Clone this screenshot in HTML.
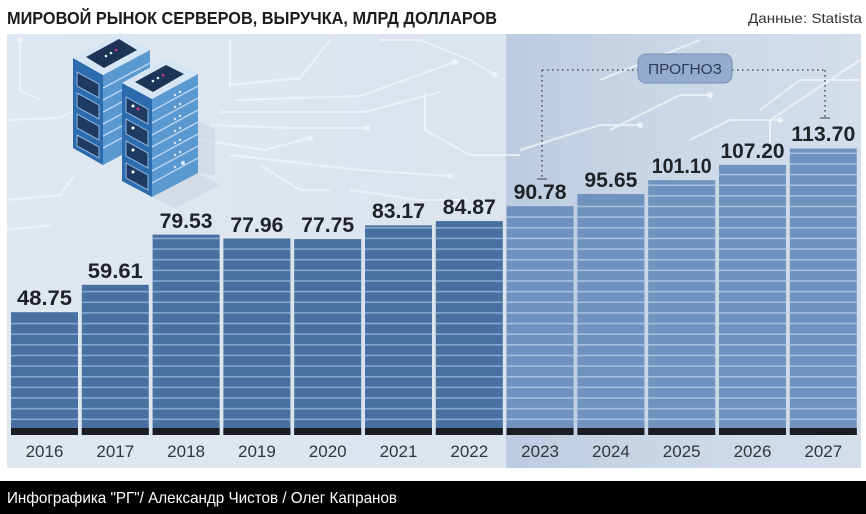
<!DOCTYPE html>
<html><head><meta charset="utf-8"><style>
html,body{margin:0;padding:0;background:#fff;}
svg{display:block;}
text{font-family:"Liberation Sans",sans-serif;}
</style></head><body>
<svg width="866" height="514" viewBox="0 0 866 514" xmlns="http://www.w3.org/2000/svg">
<defs>
<linearGradient id="fc" x1="0" y1="0" x2="1" y2="0">
<stop offset="0" stop-color="#bccbe0"/>
<stop offset="0.45" stop-color="#cad7e7"/>
<stop offset="1" stop-color="#d4deeb"/>
</linearGradient>
<linearGradient id="pn" x1="0" y1="0" x2="1" y2="0">
<stop offset="0" stop-color="#dfe7f0"/>
<stop offset="1" stop-color="#d9e2ed"/>
</linearGradient>
</defs>
<rect width="866" height="514" fill="#fff"/>
<text x="7" y="24" font-size="17.5" font-weight="bold" fill="#1c1c1c" textLength="490" lengthAdjust="spacingAndGlyphs">МИРОВОЙ РЫНОК СЕРВЕРОВ, ВЫРУЧКА, МЛРД ДОЛЛАРОВ</text>
<text x="862" y="23" font-size="14" fill="#333" text-anchor="end" textLength="114" lengthAdjust="spacingAndGlyphs">Данные: Statista</text>

<rect x="7" y="34" width="854" height="434" fill="url(#pn)"/>
<rect x="506" y="34" width="355" height="434" fill="url(#fc)"/>

<!-- circuit lines -->
<g fill="none" stroke="#f2f6fa" stroke-width="2" opacity="0.75">
<polyline points="7,120 60,118 75,110"/>
<polyline points="20,40 20,90 40,100"/>
<polyline points="230,40 230,85 300,78 330,40"/>
<polyline points="235,100 360,96 455,62"/>
<polyline points="220,112 365,112 440,92"/>
<polyline points="210,125 290,128 367,128"/>
<polyline points="200,140 265,150 310,138"/>
<polyline points="230,155 360,170 450,176"/>
<polyline points="260,165 300,190 330,190"/>
<polyline points="425,92 425,130 470,155 520,155"/>
<polyline points="380,40 420,40 470,60 495,75"/>
<polyline points="350,190 420,200 465,200"/>
<polyline points="600,80 700,40"/>
<polyline points="610,130 680,95 710,95"/>
<polyline points="520,150 600,125 640,125"/>
<polyline points="760,110 800,80 860,80"/>
<polyline points="770,150 770,120 860,60"/>
<polyline points="690,140 730,120 780,120"/>
<polyline points="7,200 60,195 75,175"/>
<polyline points="7,230 50,225"/>
</g>
<g fill="#f2f6fa" opacity="0.8">
<circle cx="455" cy="62" r="3"/><circle cx="367" cy="128" r="3"/><circle cx="310" cy="138" r="3"/>
<circle cx="450" cy="176" r="3"/><circle cx="495" cy="75" r="3"/><circle cx="465" cy="200" r="3"/>
<circle cx="640" cy="125" r="3"/><circle cx="710" cy="95" r="3"/><circle cx="780" cy="120" r="3"/>
<circle cx="20" cy="40" r="3"/><circle cx="75" cy="110" r="3"/>
</g>

<!-- servers -->
<g>
<polygon points="198,120 215,130 215,175 198,173" fill="#c9d4e0" opacity="0.6"/>
<polygon points="152,197 198,173 220,185 175,208" fill="#c9d4e0" opacity="0.6"/>
<!-- tower 1 -->
<polygon points="73,58 103,75 103,165 73,148" fill="#2c6cae"/>
<polygon points="103,75 150,50 150,140 103,165" fill="#5a98d0"/>
<g stroke="#b9d3ec" stroke-width="1.5">
<line x1="103" y1="88" x2="150" y2="63"/><line x1="103" y1="100" x2="150" y2="75"/>
<line x1="103" y1="112" x2="150" y2="87"/><line x1="103" y1="124" x2="150" y2="99"/>
<line x1="103" y1="136" x2="150" y2="111"/><line x1="103" y1="148" x2="150" y2="123"/>
</g>
<polygon points="73,58 120,33 150,50 103,75" fill="#d6e5f3"/>
<polygon points="86,57 119,39 137,50 104,68" fill="#1e3456"/>
<circle cx="106" cy="56" r="1.3" fill="#cfe"/><circle cx="111" cy="53" r="1.3" fill="#cfe"/><circle cx="116" cy="50" r="1.3" fill="#d03a7a"/>
<g fill="#1f3a63" stroke="#8fb8e0" stroke-width="1">
<polygon points="77,72 99,84 99,98 77,86"/>
<polygon points="77,93 99,105 99,119 77,107"/>
<polygon points="77,114 99,126 99,140 77,128"/>
<polygon points="77,135 99,147 99,158 77,146"/>
</g>
<!-- tower 2 -->
<polygon points="122,83 152,99 152,197 122,181" fill="#2c6cae"/>
<polygon points="152,99 198,74 198,173 152,197" fill="#5a98d0"/>
<g stroke="#b9d3ec" stroke-width="1.5">
<line x1="152" y1="111" x2="198" y2="86"/><line x1="152" y1="123" x2="198" y2="98"/>
<line x1="152" y1="135" x2="198" y2="110"/><line x1="152" y1="147" x2="198" y2="122"/>
<line x1="152" y1="159" x2="198" y2="134"/><line x1="152" y1="171" x2="198" y2="146"/>
<line x1="152" y1="183" x2="198" y2="158"/>
</g>
<g fill="#d8ecff">
<circle cx="175" cy="95" r="1.2"/><circle cx="180" cy="92" r="1.2"/><circle cx="175" cy="107" r="1.2"/><circle cx="180" cy="104" r="1.2"/>
<circle cx="175" cy="119" r="1.2"/><circle cx="180" cy="116" r="1.2"/><circle cx="175" cy="131" r="1.2"/><circle cx="180" cy="128" r="1.2"/>
<circle cx="175" cy="143" r="1.2"/><circle cx="180" cy="140" r="1.2"/><circle cx="175" cy="155" r="1.2"/><circle cx="180" cy="152" r="1.2"/>
<circle cx="175" cy="167" r="1.2"/><circle cx="183" cy="163" r="2"/>
</g>
<polygon points="122,83 167,58 198,74 152,99" fill="#d6e5f3"/>
<polygon points="135,82 166,65 184,74 153,92" fill="#1e3456"/>
<circle cx="153" cy="81" r="1.3" fill="#cfe"/><circle cx="158" cy="78" r="1.3" fill="#cfe"/><circle cx="163" cy="75" r="1.3" fill="#d03a7a"/>
<g fill="#1f3a63" stroke="#8fb8e0" stroke-width="1">
<polygon points="126,97 148,109 148,124 126,112"/>
<polygon points="126,119 148,131 148,146 126,134"/>
<polygon points="126,141 148,153 148,168 126,156"/>
<polygon points="126,163 148,175 148,190 126,178"/>
</g>
<circle cx="133" cy="106" r="1.5" fill="#fff"/><circle cx="138" cy="109" r="1.5" fill="#d03a7a"/>
<circle cx="133" cy="128" r="1.5" fill="#fff"/><circle cx="133" cy="150" r="1.5" fill="#fff"/><circle cx="133" cy="172" r="1.5" fill="#fff"/>
</g>

<!-- прогноз annotation -->
<g stroke="#555b66" stroke-width="1.6" stroke-dasharray="1.6 3.4" fill="none">
<line x1="542" y1="70" x2="638" y2="70"/>
<line x1="732" y1="70" x2="825" y2="70"/>
<line x1="542" y1="70" x2="542" y2="178"/>
<line x1="825" y1="70" x2="825" y2="117"/>
</g>
<line x1="537" y1="179" x2="547" y2="179" stroke="#555b66" stroke-width="1.2"/>
<line x1="820" y1="118" x2="830" y2="118" stroke="#555b66" stroke-width="1.2"/>
<rect x="638" y="54" width="94" height="29" rx="8" fill="#94adcc" stroke="#7590b5" stroke-width="1"/>
<text x="685" y="74" font-size="15" fill="#2b3d56" text-anchor="middle" textLength="74" lengthAdjust="spacingAndGlyphs">ПРОГНОЗ</text>

<!-- bars -->
<g id="bars">
<g fill="#4870a0">
<rect x="11" y="312.2" width="67" height="122.8"/>
<rect x="81.8" y="284.8" width="67" height="150.2"/>
<rect x="152.6" y="234.6" width="67" height="200.4"/>
<rect x="223.4" y="238.5" width="67" height="196.5"/>
<rect x="294.2" y="239.1" width="67" height="195.9"/>
<rect x="365" y="225.4" width="67" height="209.6"/>
<rect x="435.8" y="221.1" width="67" height="213.9"/>
</g>
<g fill="#7092bf">
<rect x="506.6" y="206.2" width="67" height="228.8"/>
<rect x="577.4" y="194" width="67" height="241"/>
<rect x="648.2" y="180.2" width="67" height="254.8"/>
<rect x="719" y="164.9" width="67" height="270.1"/>
<rect x="789.8" y="148.5" width="67" height="286.5"/>
</g>
</g>
<g id="stripes"></g>
<g fill="#1b1d22">
<rect x="11" y="428" width="67" height="7"/><rect x="81.8" y="428" width="67" height="7"/>
<rect x="152.6" y="428" width="67" height="7"/><rect x="223.4" y="428" width="67" height="7"/>
<rect x="294.2" y="428" width="67" height="7"/><rect x="365" y="428" width="67" height="7"/>
<rect x="435.8" y="428" width="67" height="7"/><rect x="506.6" y="428" width="67" height="7"/>
<rect x="577.4" y="428" width="67" height="7"/><rect x="648.2" y="428" width="67" height="7"/>
<rect x="719" y="428" width="67" height="7"/><rect x="789.8" y="428" width="67" height="7"/>
</g>

<!-- value labels -->
<g font-size="21" font-weight="bold" fill="#1f2226" text-anchor="middle">
<text x="44.5" y="305" textLength="55" lengthAdjust="spacingAndGlyphs">48.75</text>
<text x="115.3" y="278" textLength="55" lengthAdjust="spacingAndGlyphs">59.61</text>
<text x="186.1" y="228" textLength="53" lengthAdjust="spacingAndGlyphs">79.53</text>
<text x="256.9" y="232" textLength="53" lengthAdjust="spacingAndGlyphs">77.96</text>
<text x="327.7" y="232" textLength="53" lengthAdjust="spacingAndGlyphs">77.75</text>
<text x="398.5" y="218" textLength="53" lengthAdjust="spacingAndGlyphs">83.17</text>
<text x="469.3" y="214" textLength="53" lengthAdjust="spacingAndGlyphs">84.87</text>
<text x="540.1" y="199" textLength="53" lengthAdjust="spacingAndGlyphs">90.78</text>
<text x="610.9" y="187" textLength="53" lengthAdjust="spacingAndGlyphs">95.65</text>
<text x="681.7" y="173" textLength="60" lengthAdjust="spacingAndGlyphs">101.10</text>
<text x="752.5" y="158" textLength="64" lengthAdjust="spacingAndGlyphs">107.20</text>
<text x="823.3" y="141" textLength="64" lengthAdjust="spacingAndGlyphs">113.70</text>
</g>

<!-- year labels -->
<g font-size="17" fill="#33363b" text-anchor="middle">
<text x="44.5" y="457">2016</text><text x="115.3" y="457">2017</text>
<text x="186.1" y="457">2018</text><text x="256.9" y="457">2019</text>
<text x="327.7" y="457">2020</text><text x="398.5" y="457">2021</text>
<text x="469.3" y="457">2022</text><text x="540.1" y="457">2023</text>
<text x="610.9" y="457">2024</text><text x="681.7" y="457">2025</text>
<text x="752.5" y="457">2026</text><text x="823.3" y="457">2027</text>
</g>

<rect x="0" y="481" width="866" height="33" fill="#000"/>
<text x="7" y="503" font-size="16" fill="#fff" textLength="390" lengthAdjust="spacingAndGlyphs">Инфографика "РГ"/ Александр Чистов / Олег Капранов</text>
</svg>
<script>
(function(){
var ns="http://www.w3.org/2000/svg";
var g=document.getElementById("stripes");
var xs=[11,81.8,152.6,223.4,294.2,365,435.8,506.6,577.4,648.2,719,789.8];
var tops=[312.2,284.8,234.6,238.5,239.1,225.4,221.1,206.2,194,180.2,164.9,148.5];
for(var i=0;i<12;i++){
 for(var k=1;k<40;k++){
  var y=429.94-10.64*k;
  if(y<tops[i]+2)break;
  var r=document.createElementNS(ns,"rect");
  r.setAttribute("x",xs[i]);r.setAttribute("y",(y-0.8).toFixed(2));
  r.setAttribute("width",67);r.setAttribute("height",1.6);
  r.setAttribute("fill",i<7?"#86a7ce":"#a6bfdd");
  g.appendChild(r);
 }
}
})();
</script>
</body></html>
